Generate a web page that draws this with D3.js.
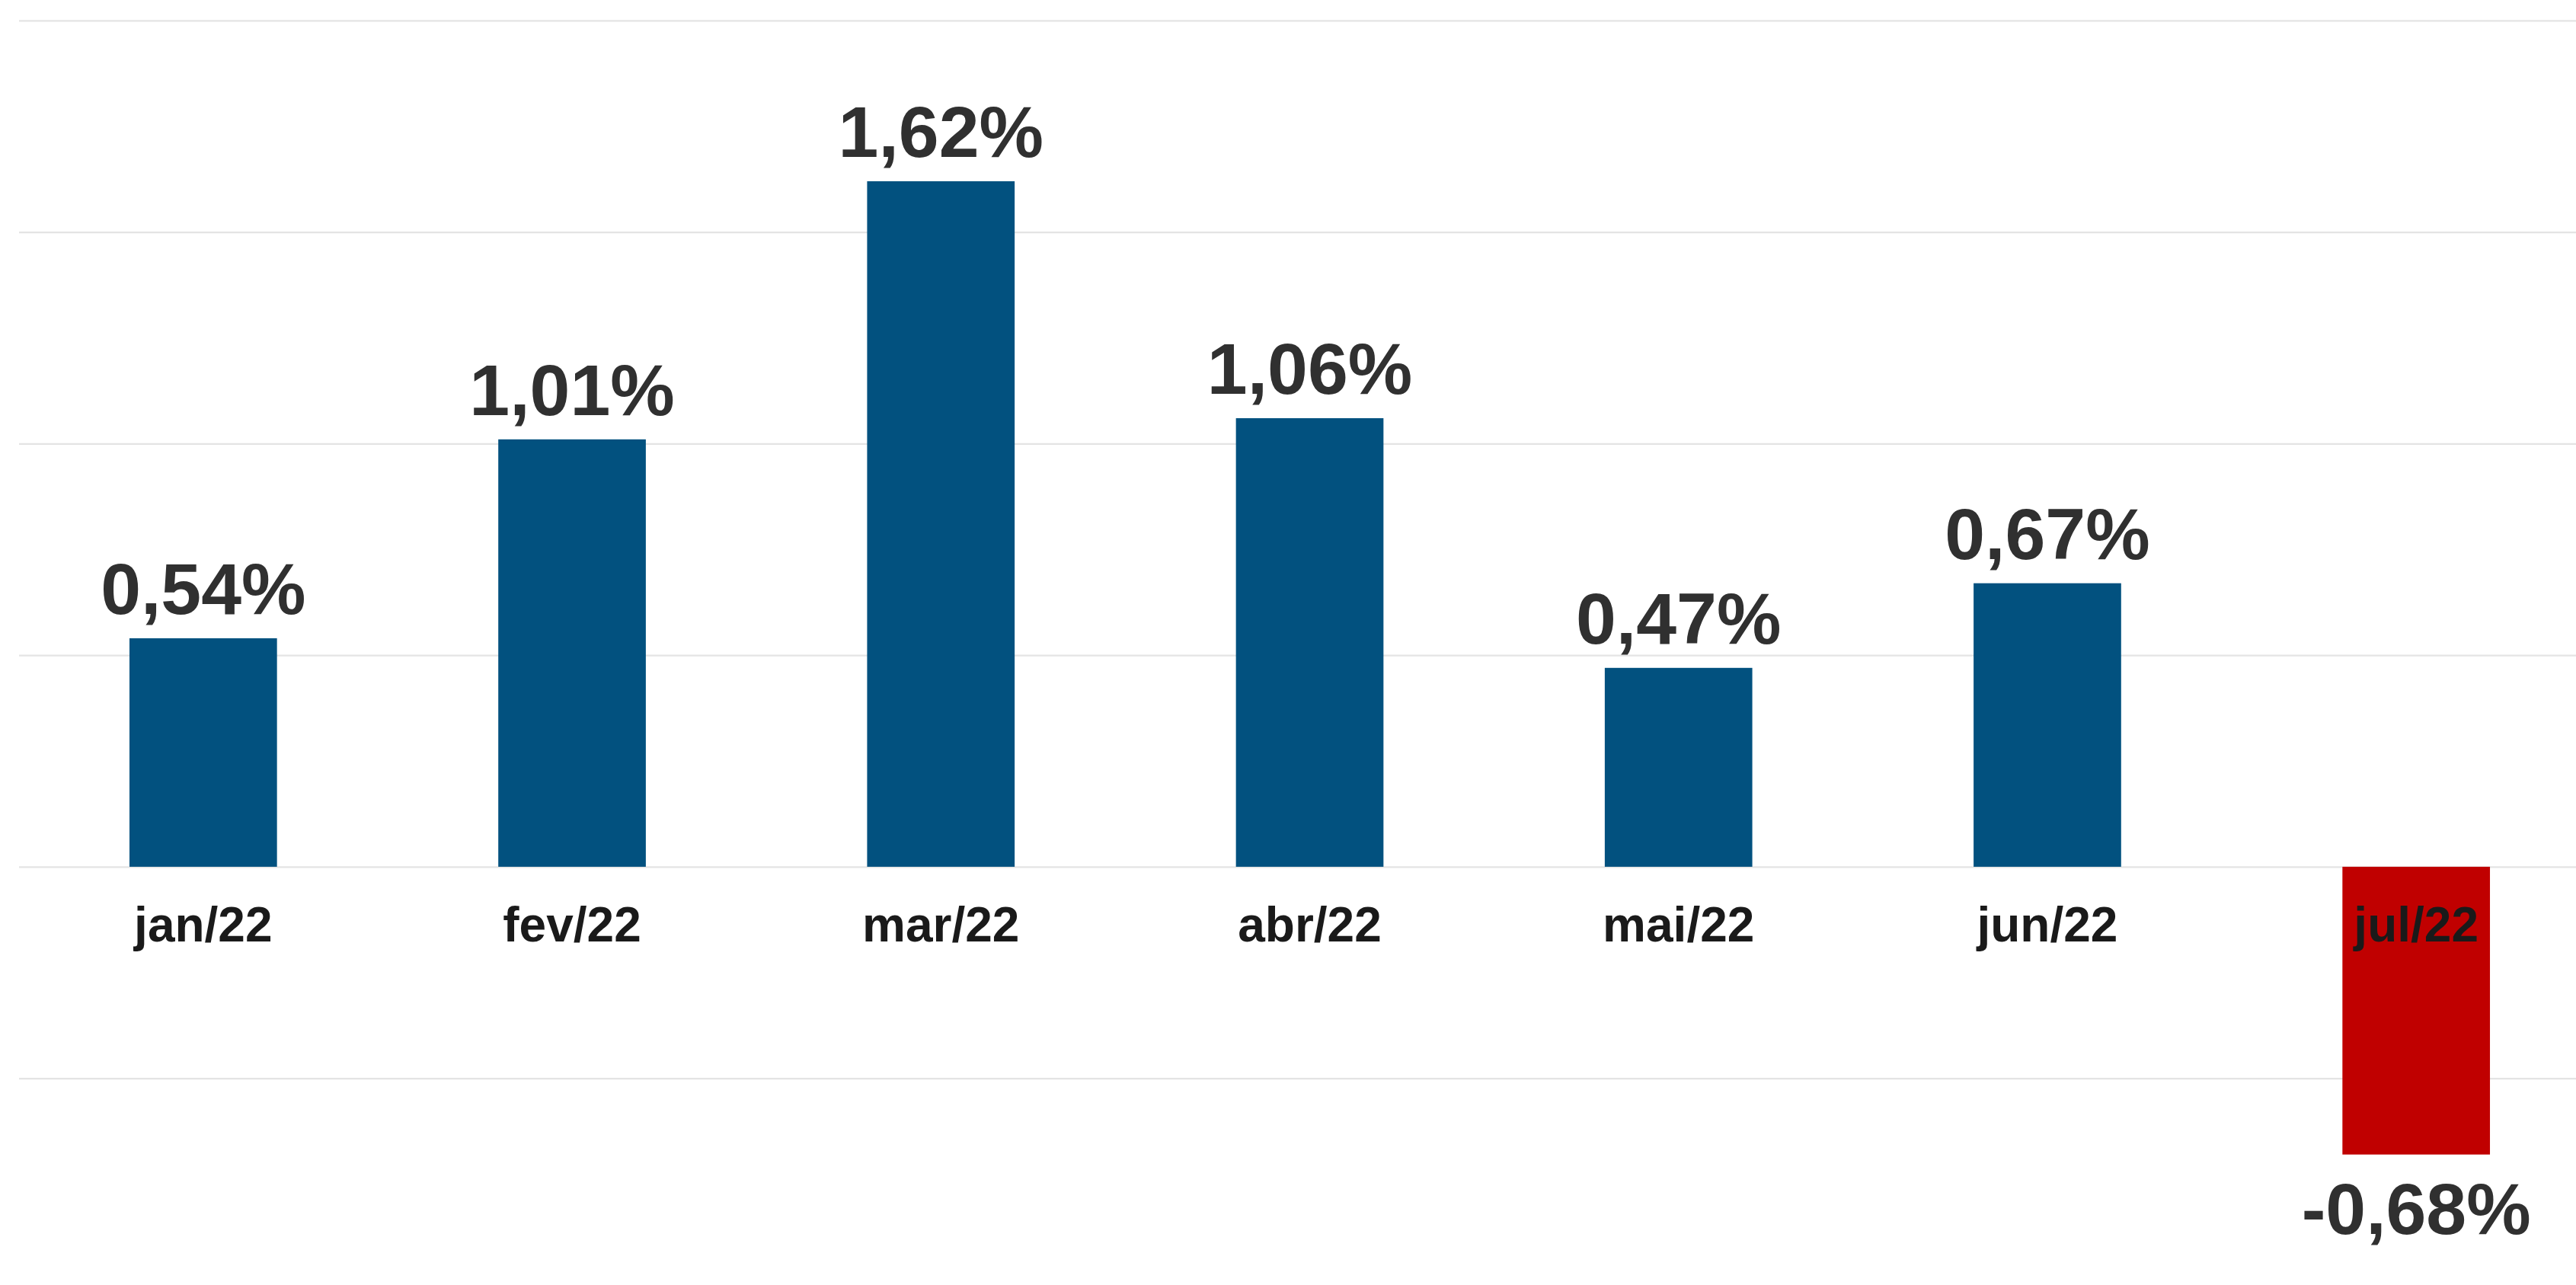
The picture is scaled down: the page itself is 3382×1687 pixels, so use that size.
<!DOCTYPE html>
<html>
<head>
<meta charset="utf-8">
<script src="https://cdn.jsdelivr.net/npm/d3@7"></script>
<style>
html,body{margin:0;padding:0;background:#fff;}
svg{display:block;}
</style>
</head>
<body>
<svg id="chart" width="3382" height="1687"></svg>
<script>
const categories = ["jan/22","fev/22","mar/22","abr/22","mai/22","jun/22","jul/22"];
const values = [0.54, 1.01, 1.62, 1.06, 0.47, 0.67, -0.68];
const gridTicks = [-0.5, 0, 0.5, 1.0, 1.5, 2.0];

const W = 3382, H = 1687;
const svg = d3.select("#chart");

const y = d3.scaleLinear().domain([-0.5, 2.0]).range([1415.7, 26.8]);
const x = d3.scaleBand().domain(categories).range([24.7, 3414.3]).paddingInner(0.6).paddingOuter(0.3);

const fmt = v => (v < 0 ? "-" : "") + d3.format(".2f")(Math.abs(v)).replace(".", ",") + "%";

// gridlines
const yAxis = d3.axisLeft(y).tickValues(gridTicks).tickSize(-(W - 25)).tickFormat("");
const g = svg.append("g").attr("transform", "translate(25,0)").call(yAxis);
g.select(".domain").remove();
g.selectAll(".tick line").attr("stroke", "#e4e4e4").attr("stroke-width", 2.2);

// bars
svg.selectAll("rect.bar").data(values).join("rect")
  .attr("class", "bar")
  .attr("x", (d, i) => x(categories[i]))
  .attr("width", x.bandwidth())
  .attr("y", d => y(Math.max(0, d)))
  .attr("height", d => Math.abs(y(d) - y(0)))
  .attr("fill", d => d < 0 ? "#C00000" : "#02517F");

// value labels
svg.selectAll("text.val").data(values).join("text")
  .attr("class", "val")
  .attr("x", (d, i) => x(categories[i]) + x.bandwidth() / 2)
  .attr("y", d => d >= 0 ? y(d) - 32 : y(d) + 104)
  .attr("text-anchor", "middle")
  .attr("font-family", "'Liberation Sans', Arial, sans-serif")
  .attr("font-weight", "bold")
  .attr("font-size", 95)
  .attr("fill", "#303030")
  .text(d => fmt(d));

// category labels
const xAxis = d3.axisBottom(x).tickSize(0).tickPadding(0);
const xa = svg.append("g").call(xAxis);
xa.select(".domain").remove();
xa.selectAll(".tick text")
  .attr("y", 1236).attr("dy", null)
  .attr("font-family", "'Liberation Sans', Arial, sans-serif")
  .attr("font-weight", "bold")
  .attr("font-size", 64)
  .attr("fill", "#1a1a1a");
</script>
</body>
</html>
